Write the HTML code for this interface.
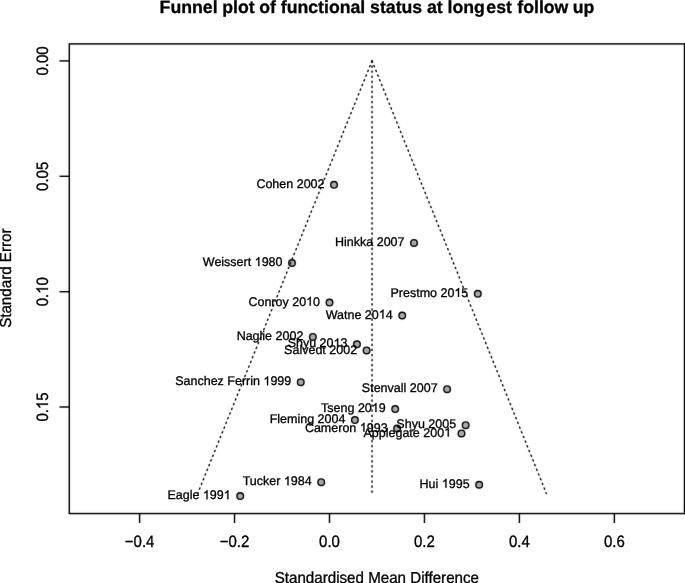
<!DOCTYPE html><html><head><meta charset="utf-8"><title>Funnel plot</title><style>html,body{margin:0;padding:0;background:#fff;overflow:hidden;}svg{display:block;filter:grayscale(1);}text{font-family:"Liberation Sans",sans-serif;fill:#000;text-rendering:geometricPrecision;stroke:#000;stroke-width:0.3px;}tspan.h{fill:none;stroke:none;}</style></head><body>
<svg width="685" height="583" viewBox="0 0 685 583">
<defs><path id="one" d="M763 0L583 0L583 1147Q518 1085 412 1023Q306 961 222 930L222 1104Q373 1175 486 1276Q599 1377 646 1472L763 1472Z"/>
<filter id="bl" x="0" y="0" width="685" height="583" filterUnits="userSpaceOnUse" color-interpolation-filters="sRGB"><feConvolveMatrix order="3" kernelMatrix="0.0072 0.0847 0.0072 0.0847 1 0.0847 0.0072 0.0847 0.0072" divisor="1.3673" edgeMode="duplicate" preserveAlpha="true"/></filter>
</defs>
<g filter="url(#bl)">
<rect width="685" height="583" fill="#fff"/>
<rect x="69.3" y="43.9" width="615.20" height="469.65" fill="none" stroke="#000" stroke-width="1.45"/>
<line x1="139.6" y1="513.55" x2="139.6" y2="523" stroke="#000" stroke-width="1.45"/>
<line x1="234.55" y1="513.55" x2="234.55" y2="523" stroke="#000" stroke-width="1.45"/>
<line x1="329.5" y1="513.55" x2="329.5" y2="523" stroke="#000" stroke-width="1.45"/>
<line x1="424.45" y1="513.55" x2="424.45" y2="523" stroke="#000" stroke-width="1.45"/>
<line x1="519.4" y1="513.55" x2="519.4" y2="523" stroke="#000" stroke-width="1.45"/>
<line x1="614.35" y1="513.55" x2="614.35" y2="523" stroke="#000" stroke-width="1.45"/>
<line x1="69.3" y1="60.9" x2="59.5" y2="60.9" stroke="#000" stroke-width="1.45"/>
<line x1="69.3" y1="176.3" x2="59.5" y2="176.3" stroke="#000" stroke-width="1.45"/>
<line x1="69.3" y1="291.7" x2="59.5" y2="291.7" stroke="#000" stroke-width="1.45"/>
<line x1="69.3" y1="407.0" x2="59.5" y2="407.0" stroke="#000" stroke-width="1.45"/>
<g fill="#a9a9a9" stroke="#000" stroke-width="1.4">
<circle cx="334.0" cy="184.8" r="3.3"/>
<circle cx="414.0" cy="242.9" r="3.3"/>
<circle cx="292.0" cy="263.0" r="3.3"/>
<circle cx="477.8" cy="293.8" r="3.3"/>
<circle cx="329.5" cy="302.6" r="3.3"/>
<circle cx="402.2" cy="315.5" r="3.3"/>
<circle cx="312.85" cy="336.9" r="3.3"/>
<circle cx="356.95" cy="344.25" r="3.3"/>
<circle cx="366.6" cy="350.45" r="3.3"/>
<circle cx="300.75" cy="382.2" r="3.3"/>
<circle cx="447.1" cy="389.2" r="3.3"/>
<circle cx="395.2" cy="409.0" r="3.3"/>
<circle cx="354.9" cy="420.1" r="3.3"/>
<circle cx="397.1" cy="428.6" r="3.3"/>
<circle cx="465.65" cy="425.2" r="3.3"/>
<circle cx="461.5" cy="433.4" r="3.3"/>
<circle cx="321.2" cy="482.2" r="3.3"/>
<circle cx="240.2" cy="496.1" r="3.3"/>
<circle cx="479.15" cy="484.75" r="3.3"/>
</g>
<g fill="none" stroke="#000" stroke-width="1.4" stroke-dasharray="1.3 3.76" stroke-linecap="round">
<line x1="372.05" y1="60.9" x2="372.05" y2="493.5"/>
<line x1="372.05" y1="60.9" x2="197.71" y2="493.5"/>
<line x1="372.05" y1="60.9" x2="546.39" y2="493.5"/>
</g>
</g>
<g>
<text id="t0" y="12.5" font-size="17.7" font-weight="bold"><tspan x="159.61">Funnel</tspan><tspan x="222.23">plot</tspan><tspan x="259.15">of</tspan><tspan x="280.79">functional</tspan><tspan x="370.07">status</tspan><tspan x="426.99">at</tspan><tspan x="447.57">long</tspan><tspan x="486.3">est</tspan><tspan x="517.29">follow</tspan><tspan x="572.8">up</tspan></text>
</g>
<g transform="translate(139.6 546.5) scale(1 1.1)">
<text id="t1" font-size="15.0" text-anchor="middle">−0.4</text>
</g>
<g transform="translate(234.55 546.5) scale(1 1.1)">
<text id="t2" font-size="15.0" text-anchor="middle">−0.2</text>
</g>
<g transform="translate(329.5 546.5) scale(1 1.1)">
<text id="t3" font-size="15.0" text-anchor="middle">0.0</text>
</g>
<g transform="translate(424.45 546.5) scale(1 1.1)">
<text id="t4" font-size="15.0" text-anchor="middle">0.2</text>
</g>
<g transform="translate(519.4 546.5) scale(1 1.1)">
<text id="t5" font-size="15.0" text-anchor="middle">0.4</text>
</g>
<g transform="translate(614.35 546.5) scale(1 1.1)">
<text id="t6" font-size="15.0" text-anchor="middle">0.6</text>
</g>
<g transform="translate(48.0 60.9) rotate(-90) scale(1 1.1)">
<text id="t7" font-size="15.0" text-anchor="middle">0.00</text>
</g>
<g transform="translate(48.0 176.3) rotate(-90) scale(1 1.1)">
<text id="t8" font-size="15.0" text-anchor="middle">0.05</text>
</g>
<g transform="translate(48.0 291.7) rotate(-90) scale(1 1.1)">
<text id="t9" font-size="15.0" text-anchor="middle">0.<tspan class="h">1</tspan>0</text>
<use href="#one" transform="translate(-2.086 0.000) scale(0.007324 -0.007324)" fill="#000" stroke="#000" stroke-width="40.96"/>
</g>
<g transform="translate(48.0 407.0) rotate(-90) scale(1 1.1)">
<text id="t10" font-size="15.0" text-anchor="middle">0.<tspan class="h">1</tspan>5</text>
<use href="#one" transform="translate(-2.086 0.000) scale(0.007324 -0.007324)" fill="#000" stroke="#000" stroke-width="40.96"/>
</g>
<g transform="translate(376.85 582.7) scale(1 1.05)">
<text id="t11" font-size="15.15" text-anchor="middle">Standardised Mean Difference</text>
</g>
<g transform="translate(11.0 278.2) rotate(-90) scale(1 1.05)">
<text id="t12" font-size="15.15" text-anchor="middle">Standard Error</text>
</g>
<g>
<text id="t13" x="324.5" y="187.9" font-size="12.5" text-anchor="end">Cohen 2002</text>
</g>
<g>
<text id="t14" x="404.5" y="246.0" font-size="12.5" text-anchor="end">Hinkka 2007</text>
</g>
<g>
<text id="t15" x="282.5" y="266.1" font-size="12.5" text-anchor="end">Weissert <tspan class="h">1</tspan>980</text>
<use href="#one" transform="translate(254.688 266.100) scale(0.006104 -0.006104)" fill="#000" stroke="#000" stroke-width="49.15"/>
</g>
<g>
<text id="t16" x="468.3" y="296.9" font-size="12.5" text-anchor="end">Prestmo 20<tspan class="h">1</tspan>5</text>
<use href="#one" transform="translate(454.394 296.900) scale(0.006104 -0.006104)" fill="#000" stroke="#000" stroke-width="49.15"/>
</g>
<g>
<text id="t17" x="320.0" y="305.7" font-size="12.5" text-anchor="end">Conroy 20<tspan class="h">1</tspan>0</text>
<use href="#one" transform="translate(306.094 305.700) scale(0.006104 -0.006104)" fill="#000" stroke="#000" stroke-width="49.15"/>
</g>
<g>
<text id="t18" x="392.7" y="318.6" font-size="12.5" text-anchor="end">Watne 20<tspan class="h">1</tspan>4</text>
<use href="#one" transform="translate(378.794 318.600) scale(0.006104 -0.006104)" fill="#000" stroke="#000" stroke-width="49.15"/>
</g>
<g>
<text id="t19" x="303.35" y="340.0" font-size="12.5" text-anchor="end">Naglie 2002</text>
</g>
<g>
<text id="t20" x="347.45" y="347.35" font-size="12.5" text-anchor="end">Shyu 20<tspan class="h">1</tspan>3</text>
<use href="#one" transform="translate(333.544 347.350) scale(0.006104 -0.006104)" fill="#000" stroke="#000" stroke-width="49.15"/>
</g>
<g>
<text id="t21" x="357.1" y="353.55" font-size="12.5" text-anchor="end">Salvedt 2002</text>
</g>
<g>
<text id="t22" x="291.25" y="385.3" font-size="12.5" text-anchor="end">Sanchez Ferrin <tspan class="h">1</tspan>999</text>
<use href="#one" transform="translate(263.438 385.300) scale(0.006104 -0.006104)" fill="#000" stroke="#000" stroke-width="49.15"/>
</g>
<g>
<text id="t23" x="437.6" y="392.3" font-size="12.5" text-anchor="end">Stenvall 2007</text>
</g>
<g>
<text id="t24" x="385.7" y="412.1" font-size="12.5" text-anchor="end">Tseng 20<tspan class="h">1</tspan>9</text>
<use href="#one" transform="translate(371.794 412.100) scale(0.006104 -0.006104)" fill="#000" stroke="#000" stroke-width="49.15"/>
</g>
<g>
<text id="t25" x="345.4" y="423.2" font-size="12.5" text-anchor="end">Fleming 2004</text>
</g>
<g>
<text id="t26" x="387.6" y="431.7" font-size="12.5" text-anchor="end">Cameron <tspan class="h">1</tspan>993</text>
<use href="#one" transform="translate(359.788 431.700) scale(0.006104 -0.006104)" fill="#000" stroke="#000" stroke-width="49.15"/>
</g>
<g>
<text id="t27" x="456.15" y="428.3" font-size="12.5" text-anchor="end">Shyu 2005</text>
</g>
<g>
<text id="t28" x="451.1" y="436.5" font-size="12.5" text-anchor="end">Applegate 200<tspan class="h">1</tspan></text>
<use href="#one" transform="translate(444.147 436.500) scale(0.006104 -0.006104)" fill="#000" stroke="#000" stroke-width="49.15"/>
</g>
<g>
<text id="t29" x="311.7" y="485.3" font-size="12.5" text-anchor="end">Tucker <tspan class="h">1</tspan>984</text>
<use href="#one" transform="translate(283.888 485.300) scale(0.006104 -0.006104)" fill="#000" stroke="#000" stroke-width="49.15"/>
</g>
<g>
<text id="t30" x="230.7" y="499.2" font-size="12.5" text-anchor="end">Eagle <tspan class="h">1</tspan>99<tspan class="h">1</tspan></text>
<use href="#one" transform="translate(202.887 499.200) scale(0.006104 -0.006104)" fill="#000" stroke="#000" stroke-width="49.15"/>
<use href="#one" transform="translate(223.747 499.200) scale(0.006104 -0.006104)" fill="#000" stroke="#000" stroke-width="49.15"/>
</g>
<g>
<text id="t31" x="469.65" y="487.85" font-size="12.5" text-anchor="end">Hui <tspan class="h">1</tspan>995</text>
<use href="#one" transform="translate(441.837 487.850) scale(0.006104 -0.006104)" fill="#000" stroke="#000" stroke-width="49.15"/>
</g>
</svg></body></html>
